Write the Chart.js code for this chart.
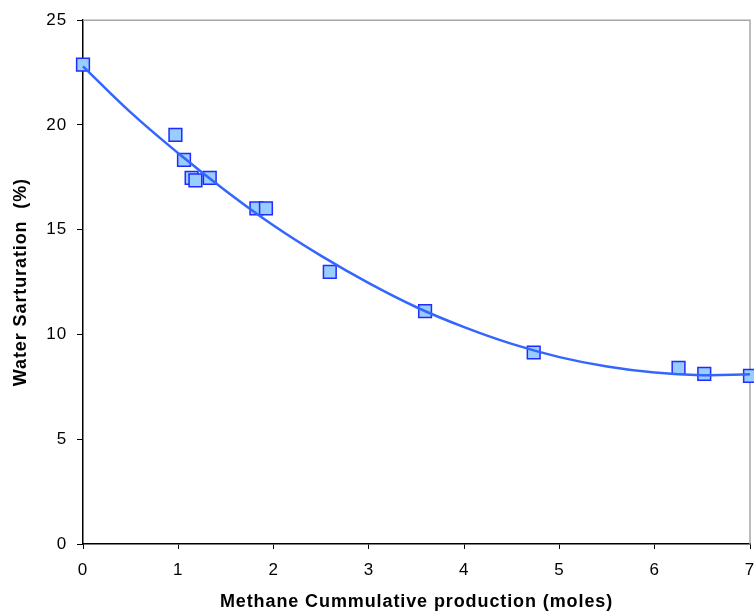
<!DOCTYPE html>
<html>
<head>
<meta charset="utf-8">
<script src="https://cdn.jsdelivr.net/npm/chart.js@4"></script>
<style>
  html, body { margin: 0; padding: 0; background: #fff; }
  canvas { display: block; }
</style>
</head>
<body>
<canvas id="chart" width="754" height="616"></canvas>
<script>
// measured points (methane produced vs water saturation)
const prodMoles = [0, 0.97, 1.06, 1.14, 1.18, 1.33, 1.82, 1.92, 2.59, 3.59, 4.73, 6.25, 6.52, 7.0];
const waterSat  = [22.88, 19.53, 18.33, 17.47, 17.35, 17.47, 16.02, 16.02, 12.99, 11.12, 9.14, 8.41, 8.12, 8.02];

// trend line
const trendX = [0, 0.5, 1, 1.5, 2, 2.5, 3, 3.5, 4, 4.5, 5, 5.5, 6, 6.5, 7];
const trendY = [22.8, 20.6, 18.65, 16.85, 15.2, 13.75, 12.45, 11.3, 10.35, 9.55, 8.92, 8.47, 8.18, 8.06, 8.1];

const xTicks = [0, 1, 2, 3, 4, 5, 6, 7];
const yTicks = [0, 5, 10, 15, 20, 25];

const FONT = "'Liberation Sans', Arial, sans-serif";

// gray frame on top and right like the original plot area
const frame = {
  id: 'frame',
  beforeDraw(chart) {
    // original text is a bit wide, spread the letters slightly
    chart.ctx.letterSpacing = '0.9px';
  },
  beforeDatasetsDraw(chart) {
    const { ctx, chartArea: a } = chart;
    ctx.save();
    ctx.strokeStyle = '#a6a6a6';
    ctx.lineWidth = 1.5;
    ctx.beginPath();
    ctx.moveTo(a.left, a.top);
    ctx.lineTo(a.right, a.top);
    ctx.lineTo(a.right, a.bottom);
    ctx.stroke();
    ctx.restore();
  }
};

new Chart(document.getElementById('chart').getContext('2d'), {
  type: 'scatter',
  data: {
    datasets: [
      {
        type: 'line',
        label: 'trend',
        data: trendX.map((x, i) => ({ x, y: trendY[i] })),
        borderColor: '#3366ff',
        borderWidth: 2.5,
        pointRadius: 0,
        tension: 0.4,
        fill: false,
        clip: false,
        order: 0,
      },
      {
        label: 'Water saturation',
        data: prodMoles.map((x, i) => ({ x, y: waterSat[i] })),
        pointStyle: 'rect',
        pointRadius: 9,
        pointHoverRadius: 9,
        backgroundColor: '#99ccff',
        borderColor: '#1f2bff',
        borderWidth: 1.5,
        clip: false,
        order: 1,
      },
    ],
  },
  options: {
    responsive: false,
    animation: false,
    layout: { autoPadding: false, padding: { top: 17, right: 4, left: 0, bottom: 0 } },
    plugins: {
      legend: { display: false },
      tooltip: { enabled: false },
    },
    scales: {
      x: {
        type: 'linear',
        min: 0,
        max: 7,
        afterBuildTicks(scale) { scale.ticks = xTicks.map(v => ({ value: v })); },
        afterFit(scale) { scale.height = 72; scale.paddingRight = 0; scale.paddingLeft = 0; },
        grid: { drawOnChartArea: false, drawTicks: true, tickLength: 5, color: '#000' },
        border: { display: true, color: '#000', width: 1.5 },
        ticks: {
          color: '#000',
          padding: 11,
          maxRotation: 0,
          font: { family: FONT, size: 17 },
        },
        title: {
          display: true,
          text: 'Methane Cummulative production (moles)',
          color: '#000',
          padding: { top: 4, bottom: 3 },
          font: { family: FONT, size: 18, weight: 'bold' },
        },
      },
      y: {
        type: 'linear',
        min: 0,
        max: 25,
        afterBuildTicks(scale) { scale.ticks = yTicks.map(v => ({ value: v })); },
        afterFit(scale) { scale.width = 83; },
        grid: { drawOnChartArea: false, drawTicks: true, tickLength: 6, color: '#000' },
        border: { display: true, color: '#000', width: 1.5 },
        ticks: {
          color: '#000',
          padding: 10,
          font: { family: FONT, size: 17 },
        },
        title: {
          display: true,
          text: 'Water Sarturation  (%)',
          color: '#000',
          padding: { top: 10, bottom: 4 },
          font: { family: FONT, size: 18, weight: 'bold' },
        },
      },
    },
  },
  plugins: [frame],
});
</script>
</body>
</html>
